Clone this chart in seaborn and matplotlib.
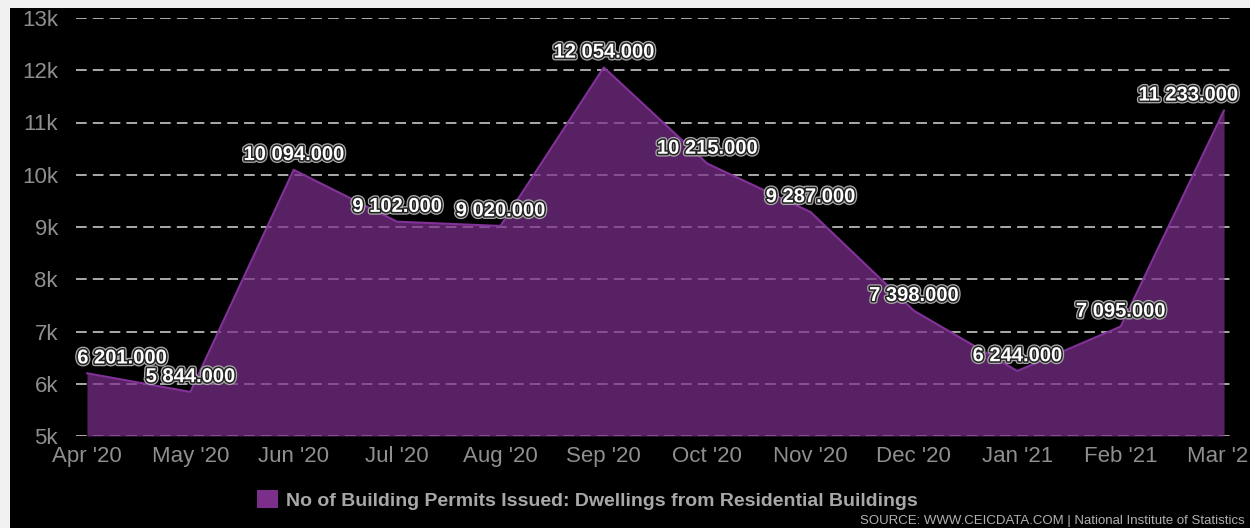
import matplotlib
matplotlib.use("Agg")
import matplotlib.pyplot as plt
import matplotlib.patheffects as pe
from matplotlib.patches import Rectangle, Patch
import seaborn as sns
import pandas as pd
import numpy as np

months = ["Apr '20", "May '20", "Jun '20", "Jul '20", "Aug '20", "Sep '20",
          "Oct '20", "Nov '20", "Dec '20", "Jan '21", "Feb '21", "Mar '21"]
permits = [6201, 5844, 10094, 9102, 9020, 12054, 10215, 9287, 7398, 6244, 7095, 11233]
y_ticks = [5000, 6000, 7000, 8000, 9000, 10000, 11000, 12000, 13000]
y_tick_labels = ["5k", "6k", "7k", "8k", "9k", "10k", "11k", "12k", "13k"]
series_name = "No of Building Permits Issued: Dwellings from Residential Buildings"
source_text = "SOURCE: WWW.CEICDATA.COM | National Institute of Statistics"

df = pd.DataFrame({"idx": np.arange(len(months)), "value": permits})

sns.set_theme(style="dark")
plt.rcParams['font.family'] = ['Liberation Sans', 'DejaVu Sans']

fig = plt.figure(figsize=(12.5, 5.28), dpi=100, facecolor="#f0f0f0")
fig.patches.append(Rectangle((10/1250, 0), 1 - 10/1250, 1 - 8/528,
                             transform=fig.transFigure, facecolor="black",
                             edgecolor="none", zorder=-5))
ax = fig.add_axes([76/1250, 1 - 436/528, (1235 - 76)/1250, (436 - 18)/528])
ax.set_zorder(2)
ax.set_facecolor("black")

fill_col = "#7b2e8a"
ax.fill_between(df["idx"], df["value"], 5000, color=fill_col, alpha=0.72,
                linewidth=0, zorder=3)
sns.lineplot(data=df, x="idx", y="value", ax=ax, color="#83329a", linewidth=1.5,
             zorder=4, legend=False)

ax.set_xlim(-0.106, len(months) - 1 + 0.106)
ax.set_ylim(5000, 13000)
ax.set_yticks(y_ticks)
ax.set_yticklabels(y_tick_labels)
ax.set_xticks(df["idx"])
ax.set_xticklabels(months)
ax.set_xlabel("")
ax.set_ylabel("")
ax.tick_params(axis="both", colors="#8f8f8f", labelsize=16, length=0)
ax.tick_params(axis="y", pad=13)
ax.tick_params(axis="x", pad=7)
for s in ax.spines.values():
    s.set_visible(False)
ax.grid(False)
for yv in y_ticks:
    ax.axhline(yv, color="#d8d8d8", linewidth=1.1, linestyle=(0, (7, 4)), zorder=2)

effects = [pe.Stroke(linewidth=4, foreground="#aaaaaa"),
           pe.Stroke(linewidth=2.2, foreground="#222222"),
           pe.Normal()]

def fmt(v):
    return f"{v:,}".replace(",", " ") + ".000"

n = len(permits)
for i, v in enumerate(permits):
    if i == 0:
        ha, dx = "left", -7
    elif i == n - 1:
        ha, dx = "right", 10
    else:
        ha, dx = "center", 0
    ax.annotate(fmt(v), (i, v), xytext=(dx, 11), textcoords="offset points",
                ha=ha, va="center", color="white", fontsize=14.5, fontweight="bold",
                path_effects=effects, zorder=6, annotation_clip=False)

handle = Patch(facecolor=fill_col, edgecolor="none")
fig.legend([handle], [series_name], loc="center", bbox_to_anchor=(587/1250, 1 - 500/528),
           frameon=False, labelcolor="#a8a8a8", prop={"weight": "bold", "size": 14},
           handlelength=1.1, handleheight=1.0, handletextpad=0.4)
fig.text(1245/1250, 1 - 521/528, source_text, ha="right", va="center",
         fontsize=9.5, color="#b0b0b0")

fig.savefig("out.png", dpi=100, facecolor=fig.get_facecolor())
